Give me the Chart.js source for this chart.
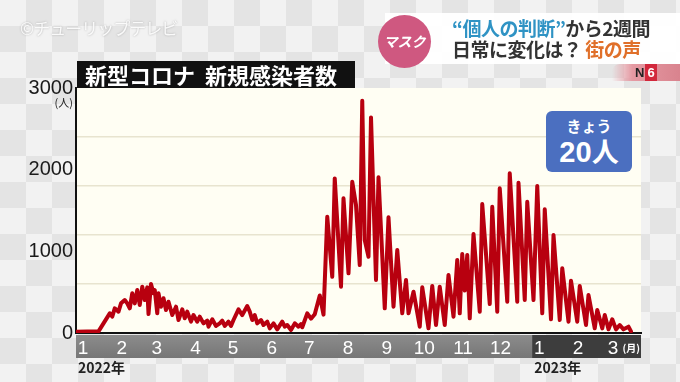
<!DOCTYPE html>
<html><head><meta charset="utf-8">
<script src="https://cdn.jsdelivr.net/npm/chart.js@4"></script>
<style>
html,body{margin:0;padding:0;}
body{width:680px;height:382px;overflow:hidden;position:relative;
 background-color:#efefef;
 background-image:repeating-conic-gradient(#e4e4e4 0 25%, #f2f2f2 0 50%);
 background-size:52px 52px;
 font-family:"Noto Sans CJK JP","Noto Sans",sans-serif;}
#c{position:absolute;left:0;top:0;z-index:1;}
.wm{position:absolute;left:20px;top:15px;font-size:17px;color:rgba(255,255,255,0.9);text-shadow:0 0 2px rgba(140,140,140,0.7);letter-spacing:-1px;z-index:2;}
.band{position:absolute;left:385px;top:13px;width:295px;height:51px;background:rgba(255,255,255,0.96);z-index:2;}
.circle{position:absolute;left:378px;top:15px;width:53px;height:53px;border-radius:50%;background:#cf5880;color:#fff;font-size:14px;font-weight:bold;line-height:53px;text-align:center;z-index:3;font-style:italic;}
.h1{position:absolute;left:452px;top:16px;font-size:19px;font-weight:bold;color:#333;white-space:nowrap;line-height:24px;z-index:3;letter-spacing:-0.5px;}
.h2{position:absolute;left:452px;top:37px;font-size:19px;font-weight:bold;color:#333;white-space:nowrap;line-height:24px;z-index:3;letter-spacing:-0.5px;}
.blue{color:#2f93c4;} .org{color:#e0702a;}
.tab{position:absolute;left:612px;top:64px;width:68px;height:17px;background:linear-gradient(90deg,rgba(230,140,150,0),#e59aa3 30%,#d9838e);z-index:2;border-top-left-radius:8px;}
.tab span{position:absolute;left:23px;top:0;font:bold 13px/17px "Liberation Sans",sans-serif;color:#222;}
.tab b{display:inline-block;background:#d2283c;color:#fff;padding:0 2px;margin-left:1px;}
.title{position:absolute;left:77px;top:61px;width:278px;height:27px;background:#111;color:#fff;font-size:22px;font-weight:bold;line-height:27px;padding-left:8px;box-sizing:border-box;white-space:nowrap;z-index:3;}
.badge{position:absolute;left:546px;top:111px;width:86px;height:61px;background:#4b6fc0;border-radius:6px;color:#fff;text-align:center;z-index:3;}
.badge .s{font-size:15px;font-weight:bold;line-height:18px;margin-top:6px;}
.badge .b{font-size:29px;font-weight:bold;line-height:32px;font-family:"Liberation Sans","Noto Sans CJK JP",sans-serif;}
.badge .b span{font-family:"Noto Sans CJK JP",sans-serif;font-size:27px;}
</style></head>
<body>
<div class="wm">©チューリップテレビ</div>
<div class="band"></div>
<div class="circle">マスク</div>
<div class="h1"><span class="blue">“個人の判断”</span>から2週間</div>
<div class="h2">日常に変化は？ <span class="org">街の声</span></div>
<div class="tab"><span>N<b>6</b></span></div>
<div class="title">新型コロナ&nbsp;&nbsp;新規感染者数</div>
<canvas id="c" width="680" height="382"></canvas>
<div class="badge"><div class="s">きょう</div><div class="b">20<span>人</span></div></div>
<script>
// Days counted from 2022-01-01
const dayOffsets = [0,18,27,29,31,34,36,39,41,43,45,47,49,51,53,55,57,58,60,62,
  63,65,66,68,70,72,74,77,80,82,85,87,89,92,94,97,99,102,105,106,
  109,112,115,117,119,122,124,126,130,133,137,139,141,143,145,148,150,153,155,158,
  161,165,167,169,172,175,178,180,181,185,188,191,195,198,201,205,207,212,214,218,
  221,224,227,229,231,234,236,240,242,247,250,254,257,261,264,266,270,275,277,282,
  285,288,291,295,298,302,305,307,309,311,313,315,318,323,325,331,333,337,339,345,
  347,353,354,359,361,366,369,373,375,380,382,387,389,394,396,401,403,408,410,415,
  417,421,423,426,429,432,435,438,442,444];
const newCases = [15,20,241,200,302,261,363,404,363,302,486,363,526,343,567,404,559,232,600,486,
  526,241,486,322,425,282,383,220,322,159,290,180,261,139,220,139,200,118,151,77,
  168,86,118,151,86,139,86,159,290,220,330,261,159,220,118,159,98,139,57,118,
  45,139,77,98,37,118,77,110,70,241,175,230,460,225,1424,689,1893,567,1649,731,
  1852,1567,832,2843,1138,934,2640,649,1906,302,1416,322,1016,241,649,241,506,77,559,57,
  575,98,567,98,710,200,894,241,967,520,955,180,1212,261,1579,355,1546,261,1771,383,
  1955,383,1840,404,1607,404,1799,241,1514,168,1200,159,792,139,640,139,575,98,465,57,
  282,57,220,45,168,45,98,45,77,20];
const monthStartDays = [0,31,59,90,120,151,181,212,243,273,304,334,365,396,424];
const monthLabels = ['1','2','3','4','5','6','7','8','9','10','11','12','1','2','3'];
const yearStartDays = [0,365];
const yearLabels = ['2022年','2023年'];
const yLabelTicks = [0,1000,2000,3000];
const yGridTicks = [600,1200,1800,2400];

const points = dayOffsets.map((d,i)=>({x:d,y:newCases[i]}));

const decor = {
  id:'decor',
  beforeDraw(chart){
    const {ctx, chartArea:a, scales:{x}} = chart;
    ctx.save();
    ctx.fillStyle = '#fffef3';
    ctx.fillRect(a.left, a.top, a.right-a.left, a.bottom-a.top);
    const y0 = a.bottom + 2, h = 23;
    const g = ctx.createLinearGradient(0,y0,0,y0+h);
    g.addColorStop(0,'#8c8c8c'); g.addColorStop(1,'#767676');
    ctx.fillStyle = g; ctx.fillRect(a.left, y0, a.right-a.left, h);
    const xd = x.getPixelForValue(yearStartDays[1]);
    ctx.fillStyle = '#3d3d3d'; ctx.fillRect(xd, y0, a.right-xd, h);
    ctx.restore();
  },
  afterDraw(chart){
    const {ctx, chartArea:a, scales:{x}} = chart;
    ctx.save();
    ctx.fillStyle = '#fff';
    ctx.font = 'bold 10px "Noto Sans CJK JP"';
    ctx.textAlign = 'right'; ctx.textBaseline = 'middle';
    ctx.fillText('(月)', a.right - 1, a.bottom + 15);
    ctx.fillStyle = '#222';
    ctx.font = 'bold 14px "Noto Sans CJK JP"';
    ctx.textAlign = 'left';
    yearLabels.forEach((t,i)=>{
      ctx.fillText(t, x.getPixelForValue(yearStartDays[i]) + 2, a.bottom + 35);
    });
    ctx.font = '11px "Noto Sans CJK JP"';
    ctx.textAlign = 'right';
    ctx.fillText('(人)', a.left - 3, a.top + 15);
    ctx.restore();
  }
};

new Chart(document.getElementById('c'), {
  type:'line',
  data:{datasets:[{
    data:points, borderColor:'#b8000f', borderWidth:4, pointRadius:0,
    tension:0, borderJoinStyle:'round', borderCapStyle:'round'
  }]},
  options:{
    responsive:false, animation:false,
    layout:{padding:{top:88,right:39,left:0,bottom:0}},
    plugins:{legend:{display:false}, tooltip:{enabled:false}, title:{display:false}},
    scales:{
      x:{type:'linear', min:0, max:452,
        afterBuildTicks:s=>{s.ticks = monthStartDays.map(v=>({value:v}));},
        afterFit:s=>{s.height = 49;},
        grid:{display:true, color:'rgba(0,0,0,0)', drawTicks:false},
        border:{display:true, color:'#111', width:2},
        ticks:{color:'#fff', font:{family:'Liberation Sans', size:19}, padding:4,
          labelOffset:7, maxRotation:0, minRotation:0, autoSkip:false,
          callback:(v,i)=>monthLabels[i]}
      },
      y:{min:0, max:3000,
        afterBuildTicks:s=>{s.ticks = [...yLabelTicks, ...yGridTicks].sort((p,q)=>p-q).map(v=>({value:v}));},
        afterFit:s=>{s.width = 76;},
        grid:{drawTicks:false, lineWidth:1.5,
          color:c=> (c.tick && yGridTicks.includes(c.tick.value)) ? '#e8e4cf' : 'rgba(0,0,0,0)'},
        border:{display:true, color:'#111', width:2},
        ticks:{color:'#1a1a1a', padding:3, font:{family:'Liberation Sans', size:20},
          callback:v=> yLabelTicks.includes(v) ? String(v) : ''}
      }
    }
  },
  plugins:[decor]
});
</script>
</body></html>
